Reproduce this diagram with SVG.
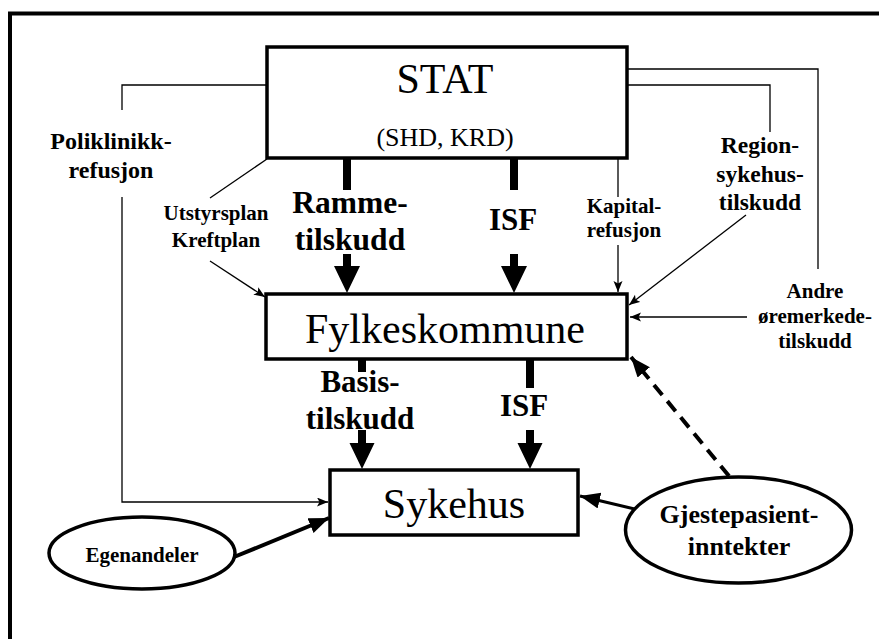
<svg xmlns="http://www.w3.org/2000/svg" width="879" height="639" viewBox="0 0 879 639">
<defs>
<style>
text{font-family:"Liberation Serif","Times New Roman",serif;fill:#000;text-anchor:middle}
.b{font-weight:bold}
.box{fill:#fff;stroke:#000;stroke-width:3.5}
.ell{fill:#fff;stroke:#000;stroke-width:3.5}
.thin{fill:none;stroke:#000;stroke-width:1.3}
.thick{fill:#000;stroke:none}
</style>
<marker id="ah" markerUnits="userSpaceOnUse" markerWidth="12" markerHeight="10" refX="11" refY="4.5" orient="auto">
<path d="M0,0 L11,4.5 L0,9 L2.5,4.5 Z" fill="#000"/>
</marker>
<marker id="ahb" markerUnits="userSpaceOnUse" markerWidth="22" markerHeight="18" refX="20" refY="8" orient="auto">
<path d="M0,0 L20,8 L0,16 Z" fill="#000"/>
</marker>
</defs>
<rect width="879" height="639" fill="#fff"/>
<path d="M10,640 V13.5 H880" fill="none" stroke="#000" stroke-width="4"/>

<g id="connectors">
<polyline class="thin" points="267,85 122,85 122,110"/>
<polyline class="thin" points="122,197 122,502 328,502" marker-end="url(#ah)"/>
<line class="thin" x1="267" y1="159" x2="210" y2="198"/>
<line class="thin" x1="210" y1="261" x2="265" y2="297" marker-end="url(#ah)"/>
<line class="thin" x1="618" y1="159" x2="618" y2="197"/>
<line class="thin" x1="618" y1="245" x2="618" y2="292" marker-end="url(#ah)"/>
<polyline class="thin" points="627,85 770,85 770,132"/>
<line class="thin" x1="746" y1="215" x2="629" y2="305" marker-end="url(#ah)"/>
<polyline class="thin" points="627,69 818,69 818,269"/>
<line class="thin" x1="747" y1="317" x2="630" y2="317" marker-end="url(#ah)"/>
<rect class="thick" x="343" y="158" width="8" height="32"/>
<path class="thick" d="M343,254 H351 V266 H360 L347,293 L334,266 H343 Z"/>
<rect class="thick" x="510" y="158" width="8" height="32"/>
<path class="thick" d="M510,254 H518 V266 H527 L514,293 L501,266 H510 Z"/>
<rect class="thick" x="358" y="359" width="8" height="13"/>
<path class="thick" d="M358,430 H366 V443 H374.5 L362,469 L349.5,443 H358 Z"/>
<rect class="thick" x="526" y="359" width="8" height="29"/>
<path class="thick" d="M526,430 H534 V443 H542.5 L530,469 L517.5,443 H526 Z"/>
<line x1="729" y1="476" x2="631" y2="357" stroke="#000" stroke-width="4" stroke-dasharray="13,8" marker-end="url(#ahb)"/>
<line x1="643" y1="511" x2="580" y2="496" stroke="#000" stroke-width="3" marker-end="url(#ahb)"/>
<line x1="234" y1="557" x2="329" y2="518" stroke="#000" stroke-width="4" marker-end="url(#ahb)"/>
</g>

<g id="stat">
<rect class="box" x="267" y="47" width="360" height="111"/>
<text x="445" y="93" font-size="42">STAT</text>
<text x="445" y="146" font-size="26">(SHD, KRD)</text>
</g>
<g id="fylkeskommune">
<rect class="box" x="266" y="294" width="361" height="65"/>
<text x="445" y="343" font-size="42">Fylkeskommune</text>
</g>
<g id="sykehus">
<rect class="box" x="330" y="470" width="248" height="65"/>
<text x="454" y="518" font-size="42">Sykehus</text>
</g>
<g id="egenandeler">
<ellipse class="ell" cx="142" cy="553" rx="93" ry="36"/>
<text class="b" x="142" y="562" font-size="21">Egenandeler</text>
</g>
<g id="gjestepasient">
<ellipse class="ell" cx="738.5" cy="530" rx="113" ry="53"/>
<text class="b" x="739" y="523" font-size="26">Gjestepasient-</text>
<text class="b" x="739" y="555" font-size="26">inntekter</text>
</g>

<g id="labels">
<text class="b" x="111" y="149" font-size="24">Poliklinikk-</text>
<text class="b" x="111" y="178" font-size="24">refusjon</text>
<text class="b" x="216" y="220" font-size="21">Utstyrsplan</text>
<text class="b" x="216" y="247" font-size="21">Kreftplan</text>
<text class="b" x="350" y="213" font-size="31.5">Ramme-</text>
<text class="b" x="350" y="250" font-size="31.5">tilskudd</text>
<text class="b" x="513" y="230" font-size="31">ISF</text>
<text class="b" x="624" y="213" font-size="21">Kapital-</text>
<text class="b" x="624" y="237" font-size="21">refusjon</text>
<text class="b" x="760" y="153" font-size="23.5">Region-</text>
<text class="b" x="760" y="182" font-size="23.5">sykehus-</text>
<text class="b" x="760" y="210" font-size="23.5">tilskudd</text>
<text class="b" x="815" y="298" font-size="21">Andre</text>
<text class="b" x="815" y="323" font-size="21">øremerkede-</text>
<text class="b" x="815" y="348" font-size="21">tilskudd</text>
<text class="b" x="360" y="392" font-size="31">Basis-</text>
<text class="b" x="360" y="429" font-size="31">tilskudd</text>
<text class="b" x="524" y="416" font-size="31">ISF</text>
</g>
</svg>
